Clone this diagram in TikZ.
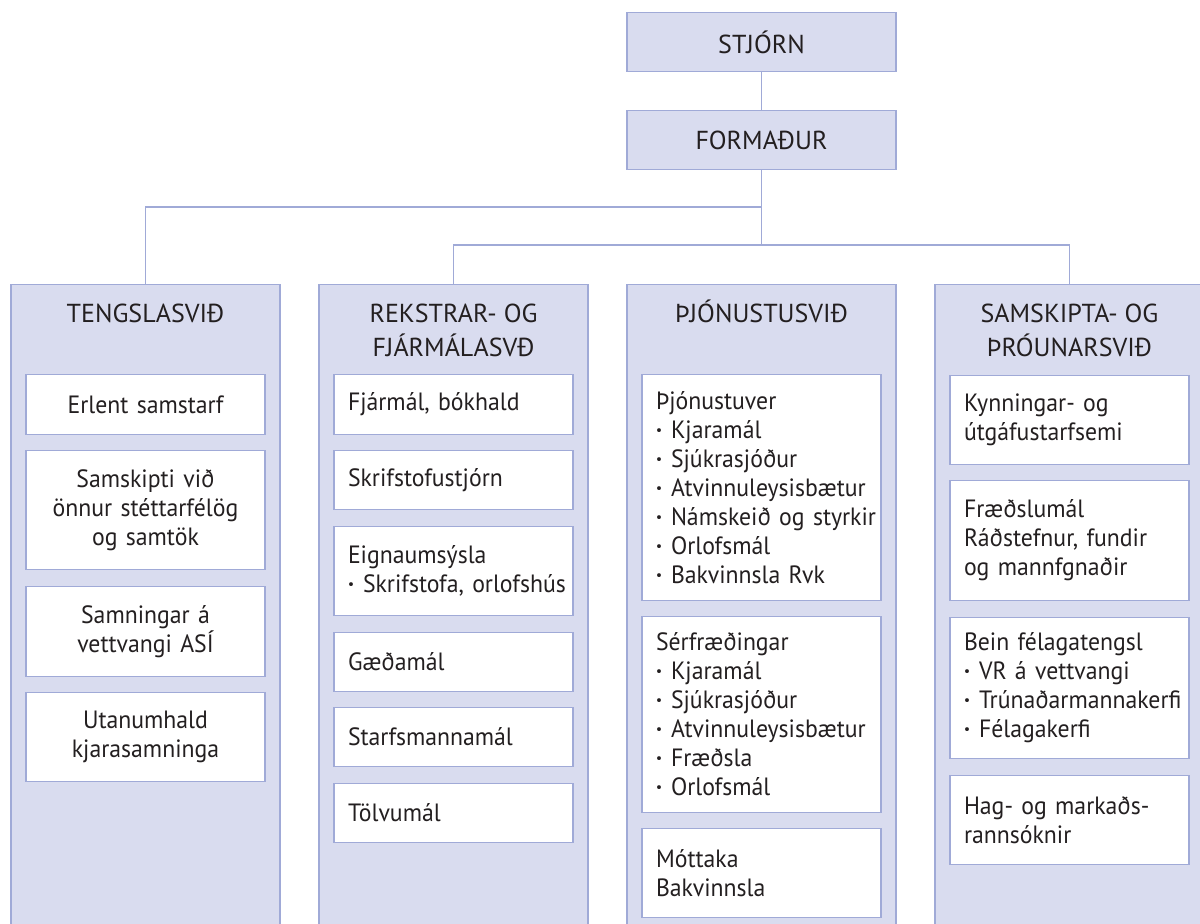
\documentclass[tikz,border=0pt]{standalone}
\usepackage{fontspec}
\setmainfont{PT Sans}
\newfontfamily\bodyfont[FakeStretch=0.95]{PT Sans}
\definecolor{bd}{RGB}{160,170,215}
\definecolor{colfill}{RGB}{217,220,239}
\definecolor{txt}{RGB}{35,31,32}
\newcommand{\bl}{\makebox[15pt][l]{\bfseries ·}}
\hyphenpenalty=10000
\exhyphenpenalty=10000
\tikzset{
  topbox/.style={draw=bd, fill=colfill, line width=1.3pt, minimum width=269pt, minimum height=59pt, inner sep=0pt, anchor=north, text=txt, font=\fontsize{26}{34}\selectfont},
  colbox/.style={draw=bd, fill=colfill, line width=1.3pt, minimum width=269pt, minimum height=660pt, inner sep=0pt, anchor=north},
  head/.style={anchor=base, align=center, text=txt, font=\fontsize{26}{34}\selectfont, inner sep=0pt},
  basebox/.style={draw=bd, fill=white, line width=1.1pt, inner ysep=0pt, anchor=north, text=txt, font=\bodyfont\fontsize{25}{29}\selectfont},
  ibox/.style={basebox, inner xsep=0pt, text width=239pt, align=left, execute at begin node={\leftskip=14pt}},
  cbox/.style={basebox, inner xsep=14pt, text width=211pt, align=center},
  conn/.style={draw=bd, line width=1.6pt}
}
\begin{document}
\begin{tikzpicture}[x=1pt,y=-1pt]
\useasboundingbox (0,0) rectangle (1200,924);
% top
\node[topbox] (stjorn) at (761.5,12) {STJÓRN};
\node[topbox] (formadur) at (761.5,110) {FORMAÐUR};
% columns
\node[colbox] (c1) at (145.5,284) {};
\node[colbox] (c2) at (453.5,284) {};
\node[colbox] (c3) at (761.5,284) {};
\node[colbox] (c4) at (1069.5,284) {};
% connectors
\coordinate (j1) at (761.5,207);
\coordinate (j2) at (761.5,245);
\draw[conn] (stjorn.south) -- (formadur.north);
\draw[conn] (formadur.south) -- (j2);
\draw[conn] (j1) -| (c1.north);
\draw[conn] (c2.north) |- (j2) -| (c4.north);
% headers
\node[head] (h1) at (145.5,322) {TENGSLASVIÐ};
\node[head] (h2) at (453.5,356) {REKSTRAR- OG\\FJÁRMÁLASVÐ};
\node[head] (h3) at (761.5,322) {ÞJÓNUSTUSVIÐ};
\node[head] (h4) at (1069.5,356) {SAMSKIPTA- OG\\ÞRÓUNARSVIÐ};
% column 1
\node[cbox, minimum height=60pt] (a1) at (145.5,374) {Erlent samstarf};
\node[cbox, minimum height=119pt] (a2) at (145.5,450) {Samskipti við\\önnur stéttarfélög\\og samtök};
\node[cbox, minimum height=90pt] (a3) at (145.5,586) {Samningar á\\vettvangi ASÍ};
\node[cbox, minimum height=89pt] (a4) at (145.5,692) {Utanumhald\\kjarasamninga};
% column 2
\node[ibox, minimum height=60pt] (b1) at (453.5,374) {Fjármál, bókhald};
\node[ibox, minimum height=59pt] (b2) at (453.5,450) {Skrifstofustjórn};
\node[ibox, minimum height=89pt] (b3) at (453.5,526) {Eignaumsýsla\\\bl Skrifstofa, orlofshús};
\node[ibox, minimum height=59pt] (b4) at (453.5,632) {Gæðamál};
\node[ibox, minimum height=59pt] (b5) at (453.5,707) {Starfsmannamál};
\node[ibox, minimum height=59pt] (b6) at (453.5,783) {Tölvumál};
% column 3
\node[ibox, minimum height=226pt] (d1) at (761.5,374) {Þjónustuver\\\bl Kjaramál\\\bl Sjúkrasjóður\\\bl Atvinnuleysisbætur\\\bl Námskeið og styrkir\\\bl Orlofsmál\\\bl Bakvinnsla Rvk};
\node[ibox, minimum height=196pt] (d2) at (761.5,616) {Sérfræðingar\\\bl Kjaramál\\\bl Sjúkrasjóður\\\bl Atvinnuleysisbætur\\\bl Fræðsla\\\bl Orlofsmál};
\node[ibox, minimum height=89pt] (d3) at (761.5,828) {Móttaka\\Bakvinnsla};
% column 4
\node[ibox, minimum height=89pt] (e1) at (1069.5,375) {Kynningar- og\\útgáfustarfsemi};
\node[ibox, minimum height=120pt] (e2) at (1069.5,480) {Fræðslumál\\Ráðstefnur, fundir\\og mannfgnaðir};
\node[ibox, minimum height=141pt] (e3) at (1069.5,617) {Bein félagatengsl\\\bl VR á vettvangi\\\bl Trúnaðarmannakerfi\\\bl Félagakerfi};
\node[ibox, minimum height=89pt] (e4) at (1069.5,775) {Hag- og markaðs-\\rannsóknir};
\end{tikzpicture}
\end{document}
